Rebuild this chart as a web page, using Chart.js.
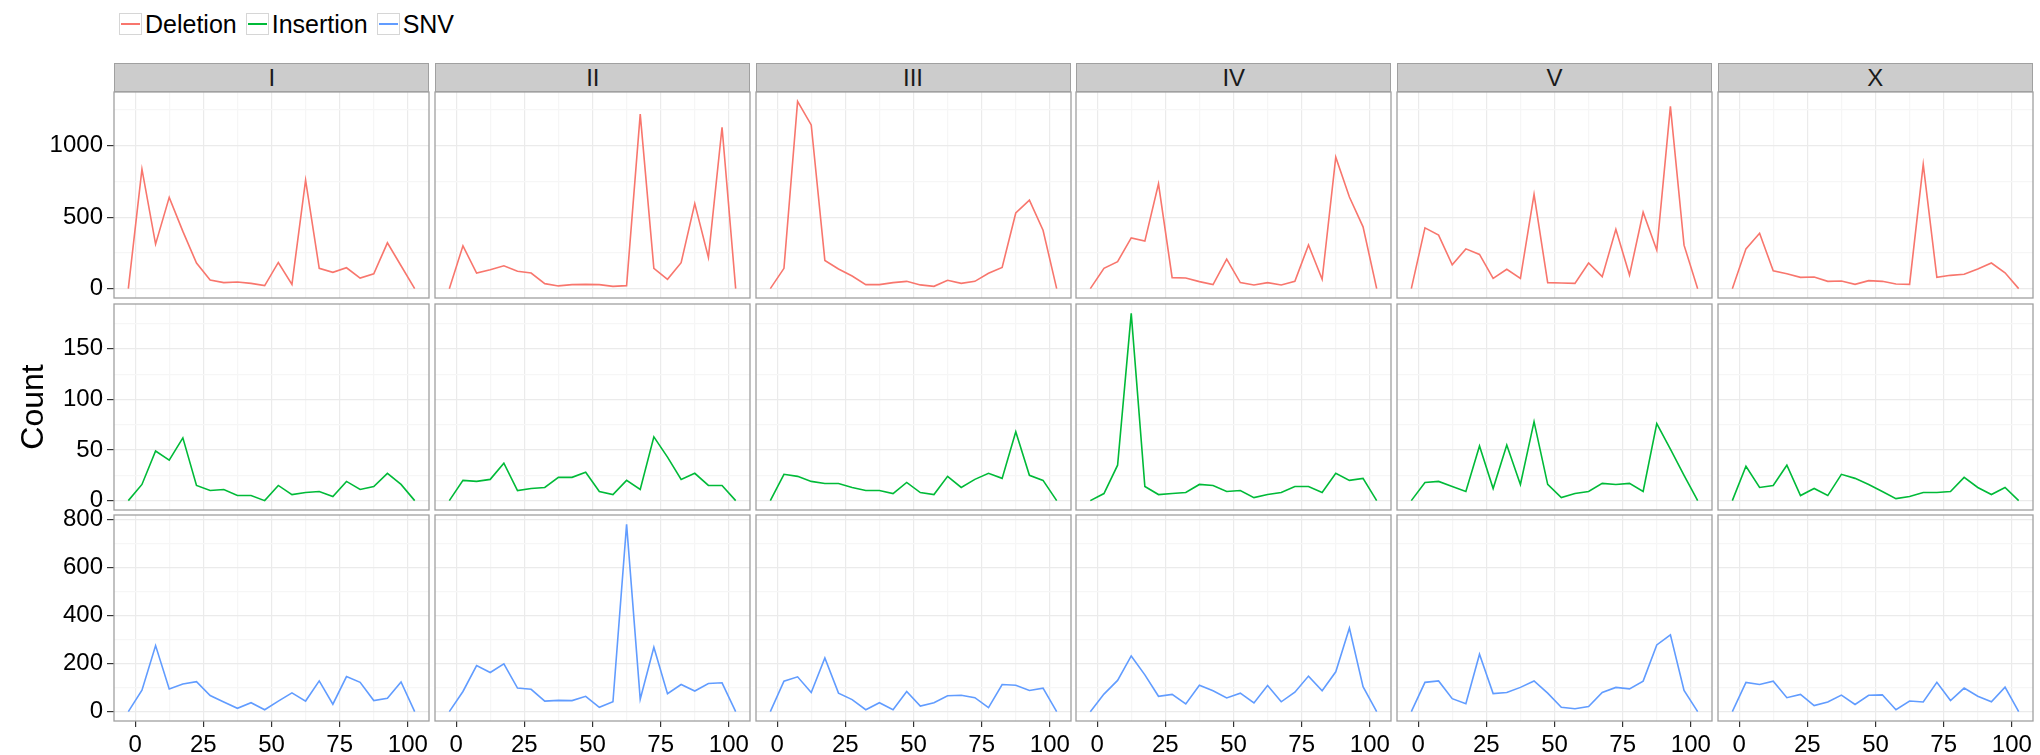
<!DOCTYPE html>
<html>
<head>
<meta charset="utf-8">
<script src="https://cdn.jsdelivr.net/npm/chart.js@4.4.0/dist/chart.umd.min.js"></script>
<style>
  body { margin: 0; background: #fff; width: 2040px; height: 755px; overflow: hidden; position: relative;
         font-family: "Liberation Sans", Arial, sans-serif; }
  canvas { position: absolute; }
  .strip { position: absolute; background: #cccccc; border: 1.3px solid #a0a0a0; box-sizing: border-box;
           text-align: center; font-size: 24px; color: #1a1a1a; line-height: 27px; }
  #legend { position: absolute; left: 119px; top: 12.7px; display: flex; gap: 9px; font-size: 25px; color: #000; line-height: 22px; }
  .item { display: flex; align-items: center; gap: 3px; }
  .key { width: 23px; height: 22px; border: 1.3px solid #d6d6d6; box-sizing: border-box; position: relative; background: #fff; }
  .key i { position: absolute; left: 1px; right: 1px; top: 9.5px; height: 1.6px; }
</style>
</head>
<body>
<div id="legend"></div>
<script>
// ---------- data ----------
const chromosomes = ["I", "II", "III", "IV", "V", "X"];
const mutationTypes = ["Deletion", "Insertion", "SNV"];
const typeColors = ["#F8766D", "#00BA38", "#619CFF"];

// bin centres (x)
const binCentres = [-2.5, 2.5, 7.5, 12.5, 17.5, 22.5, 27.5, 32.5, 37.5, 42.5, 47.5,
                    52.5, 57.5, 62.5, 67.5, 72.5, 77.5, 82.5, 87.5, 92.5, 97.5, 102.5];

const deletionI   = [0, 835, 311, 638, 400, 179, 60, 42, 46, 37, 21, 183, 30, 759, 142, 114, 146, 74, 104, 320, 160, 0];
const deletionII  = [0, 299, 109, 132, 160, 121, 109, 35, 19, 28, 30, 28, 16, 21, 1220, 142, 65, 181, 594, 218, 1128, 0];
const deletionIII = [0, 142, 1309, 1144, 197, 137, 88, 28, 28, 42, 51, 26, 16, 58, 37, 51, 107, 148, 529, 619, 408, 0];
const deletionIV  = [0, 142, 188, 355, 332, 733, 77, 74, 49, 28, 206, 42, 26, 42, 26, 51, 306, 65, 919, 640, 432, 0];
const deletionV   = [0, 425, 374, 167, 278, 239, 72, 135, 72, 659, 42, 39, 37, 179, 84, 415, 95, 534, 269, 1274, 304, 0];
const deletionX   = [0, 278, 387, 125, 104, 79, 81, 51, 53, 30, 56, 51, 32, 30, 868, 79, 93, 100, 137, 179, 111, 0];

const insertionI   = [0, 16, 49, 40, 62, 15, 10, 11, 5, 5, 0, 15, 6, 8, 9, 4, 19, 11, 14, 27, 16, 0];
const insertionII  = [0, 20, 19, 21, 37, 10, 12, 13, 23, 23, 28, 9, 6, 20, 11, 63, 43, 21, 27, 15, 15, 0];
const insertionIII = [0, 26, 24, 19, 17, 17, 13, 10, 10, 7, 18, 8, 6, 24, 13, 21, 27, 22, 68, 25, 20, 0];
const insertionIV  = [0, 7, 35, 185, 14, 6, 7, 8, 16, 15, 9, 10, 3, 6, 8, 14, 14, 8, 27, 20, 22, 0];
const insertionV   = [0, 18, 19, 14, 9, 54, 12, 55, 16, 78, 16, 3, 7, 9, 17, 16, 17, 9, 76, 51, 25, 0];
const insertionX   = [0, 34, 13, 15, 35, 5, 12, 5, 26, 22, 16, 9, 2, 4, 8, 8, 9, 23, 13, 6, 13, 0];

const snvI   = [0, 89, 275, 94, 115, 125, 67, 40, 14, 37, 8, 44, 78, 44, 128, 31, 146, 122, 46, 56, 124, 0];
const snvII  = [0, 84, 192, 163, 199, 98, 93, 44, 47, 46, 64, 18, 41, 780, 52, 268, 75, 113, 86, 117, 120, 0];
const snvIII = [0, 127, 145, 80, 224, 77, 50, 8, 37, 8, 84, 23, 37, 66, 68, 58, 17, 113, 110, 88, 98, 0];
const snvIV  = [0, 73, 130, 232, 153, 64, 72, 32, 110, 87, 57, 77, 36, 109, 41, 81, 148, 87, 166, 348, 104, 0];
const snvV   = [0, 122, 128, 54, 33, 239, 75, 80, 101, 128, 77, 18, 12, 21, 80, 101, 95, 127, 278, 320, 88, 0];
const snvX   = [0, 122, 113, 127, 58, 72, 25, 40, 69, 30, 68, 70, 8, 44, 40, 122, 46, 98, 64, 41, 102, 0];

const xTickLabels = [0, 25, 50, 75, 100];
const deletionTicks = [0, 500, 1000];
const insertionTicks = [0, 50, 100, 150];
const snvTicks = [0, 200, 400, 600, 800];

const rows = [
  { values: [deletionI, deletionII, deletionIII, deletionIV, deletionV, deletionX], ticks: deletionTicks },
  { values: [insertionI, insertionII, insertionIII, insertionIV, insertionV, insertionX], ticks: insertionTicks },
  { values: [snvI, snvII, snvIII, snvIV, snvV, snvX], ticks: snvTicks }
];

// ---------- layout ----------
const colLeft = [114.3, 435.3, 755.5, 1076.3, 1397, 1717.7];
const rowTop = [92, 303.7, 515.2];
const panelW = 315, panelH = 206;
const stripTop = 63.3, stripH = 28.7;
const yAxisW = 114, xAxisH = 40, pad = 24;

const MAJOR = "#ebebeb", MINOR = "#f6f6f6";

Chart.defaults.font.family = '"Liberation Sans", Arial, sans-serif';
Chart.defaults.color = "#000";

const panelFrame = {
  id: "panelFrame",
  afterDraw(chart) {
    const { ctx, chartArea: a } = chart;
    ctx.save();
    ctx.strokeStyle = "#a0a0a0";
    ctx.lineWidth = 1.3;
    ctx.strokeRect(a.left, a.top, a.right - a.left, a.bottom - a.top);
    ctx.restore();
  }
};

// major ticks plus the half-way minor grid lines inside [lo, hi]
function withMinors(majors, lo, hi) {
  const step = majors[1] - majors[0];
  const all = [];
  majors.forEach(m => {
    if (m - step / 2 >= lo && !all.includes(m - step / 2)) all.push(m - step / 2);
    all.push(m);
    if (m + step / 2 <= hi) all.push(m + step / 2);
  });
  return all;
}

// legend
const legendEl = document.getElementById("legend");
mutationTypes.forEach((t, i) => {
  const item = document.createElement("div");
  item.className = "item";
  item.innerHTML = `<span class="key"><i style="background:${typeColors[i]}"></i></span><span>${t}</span>`;
  legendEl.appendChild(item);
});

// strips
chromosomes.forEach((c, col) => {
  const s = document.createElement("div");
  s.className = "strip";
  s.style.left = colLeft[col] + "px";
  s.style.top = stripTop + "px";
  s.style.width = panelW + "px";
  s.style.height = stripH + "px";
  s.textContent = c;
  document.body.appendChild(s);
});

const xMin = -7.75, xMax = 107.75;
const xAll = withMinors(xTickLabels, xMin, xMax);

rows.forEach((row, r) => {
  const rowMax = Math.max(...row.values.flat());
  const yMin = -0.05 * rowMax, yMax = 1.05 * rowMax;
  const yAll = withMinors(row.ticks, yMin, yMax);

  chromosomes.forEach((c, col) => {
    const yW = col === 0 ? yAxisW : 0;
    const xH = r === 2 ? xAxisH : 0;
    const canvas = document.createElement("canvas");
    const w = yW + panelW + 2 * pad, h = panelH + xH + 2 * pad;
    canvas.width = w; canvas.height = h;
    canvas.style.left = Math.round(colLeft[col] - yW - pad) + "px";
    canvas.style.top = Math.round(rowTop[r] - pad) + "px";
    document.body.appendChild(canvas);

    new Chart(canvas.getContext("2d"), {
      type: "line",
      data: {
        datasets: [{
          label: mutationTypes[r],
          data: binCentres.map((x, i) => ({ x, y: row.values[col][i] })),
          borderColor: typeColors[r],
          borderWidth: 1.6,
          pointRadius: 0,
          tension: 0,
          fill: false
        }]
      },
      options: {
        responsive: false,
        animation: false,
        events: [],
        layout: { padding: pad },
        plugins: { legend: { display: false }, tooltip: { enabled: false } },
        scales: {
          x: {
            type: "linear", min: xMin, max: xMax,
            afterBuildTicks: s => { s.ticks = xAll.map(v => ({ value: v })); },
            afterFit: s => { s.height = xH; },
            border: { display: false },
            grid: {
              color: ctx => xTickLabels.includes(ctx.tick.value) ? MAJOR : MINOR,
              lineWidth: 1.2,
              drawTicks: r === 2,
              tickLength: 6,
              tickColor: ctx => xTickLabels.includes(ctx.tick.value) ? "#333" : "rgba(0,0,0,0)"
            },
            ticks: {
              display: r === 2,
              autoSkip: false, maxRotation: 0,
              padding: 4,
              font: { size: 24 },
              callback: v => xTickLabels.includes(v) ? String(v) : ""
            }
          },
          y: {
            type: "linear", min: yMin, max: yMax,
            afterBuildTicks: s => { s.ticks = yAll.map(v => ({ value: v })); },
            afterFit: s => { s.width = yW; },
            border: { display: false },
            title: {
              display: col === 0 && r === 1,
              text: "Count",
              font: { size: 32 },
              padding: { top: 15, bottom: 0 }
            },
            grid: {
              color: ctx => row.ticks.includes(ctx.tick.value) ? MAJOR : MINOR,
              lineWidth: 1.2,
              drawTicks: col === 0,
              tickLength: 7,
              tickColor: ctx => row.ticks.includes(ctx.tick.value) ? "#333" : "rgba(0,0,0,0)"
            },
            ticks: {
              display: col === 0,
              autoSkip: false,
              padding: 4,
              font: { size: 24 },
              callback: v => row.ticks.includes(v) ? String(v) : ""
            }
          }
        }
      },
      plugins: [panelFrame]
    });
  });
});
</script>
</body>
</html>
